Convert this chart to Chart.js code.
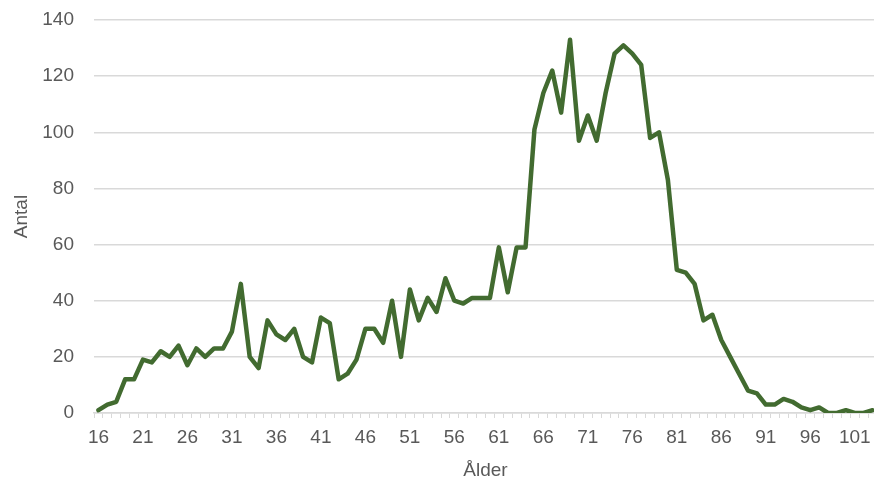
<!DOCTYPE html>
<html lang="sv">
  <head>
    <meta charset="UTF-8" />
    <title>Antal per ålder</title>
    <script src="https://cdn.jsdelivr.net/npm/chart.js@4.4.0/dist/chart.umd.min.js"></script>
    <style>
      html, body { margin: 0; padding: 0; background: #fff; overflow: hidden; }
      #wrap { width: 874px; height: 482px; overflow: hidden; }
    </style>
  </head>
  <body>
    <div id="wrap"><canvas id="myChart" width="877" height="482"></canvas></div>
    <script>
      // ages 16..103
      const ages = [];
      for (let a = 16; a <= 103; a++) ages.push(String(a));

      const antal = [
        1, 3, 4, 12, 12, 19, 18, 22, 20, 24,
        17, 23, 20, 23, 23, 29, 46, 20, 16, 33,
        28, 26, 30, 20, 18, 34, 32, 12, 14, 19,
        30, 30, 25, 40, 20, 44, 33, 41, 36, 48,
        40, 39, 41, 41, 41, 59, 43, 59, 59, 101,
        114, 122, 107, 133, 97, 106, 97, 114, 128, 131,
        128, 124, 98, 100, 83, 51, 50, 46, 33, 35,
        26, 20, 14, 8, 7, 3, 3, 5, 4, 2,
        1, 2, 0, 0, 1, 0, 0, 1
      ];

      const yTicks = [0, 20, 40, 60, 80, 100, 120, 140];

      const textColor = "#595959";
      const gridColor = "#d9d9d9";
      const font = { family: "'Liberation Sans', Arial, sans-serif", size: 19 };

      const ctx = document.getElementById("myChart").getContext("2d");
      new Chart(ctx, {
        type: "line",
        data: {
          labels: ages,
          datasets: [
            {
              label: "Antal",
              data: antal,
              borderColor: "#426b30",
              borderWidth: 4.5,
              borderJoinStyle: "round",
              borderCapStyle: "round",
              pointRadius: 0,
              fill: false,
              tension: 0,
            },
          ],
        },
        options: {
          responsive: false,
          animation: false,
          layout: { padding: { top: 20, right: 0, left: 0, bottom: 0 } },
          plugins: { legend: { display: false }, tooltip: { enabled: false } },
          scales: {
            x: {
              offset: true,
              afterFit: (s) => {
                s.height = 69;
                s.paddingLeft = 0;
                s.paddingRight = 0;
              },
              grid: {
                offset: true,
                drawOnChartArea: false,
                drawTicks: true,
                tickLength: 5,
                color: gridColor,
              },
              border: { color: gridColor, width: 1.5 },
              ticks: {
                autoSkip: false,
                maxRotation: 0,
                color: textColor,
                font: font,
                padding: 8,
                callback: function (value, index) {
                  return index % 5 === 0 ? this.getLabelForValue(value) : "";
                },
              },
              title: {
                display: true,
                text: "Ålder",
                color: textColor,
                font: font,
                padding: { top: 4, bottom: 0 },
              },
            },
            y: {
              min: 0,
              max: 140,
              afterFit: (s) => {
                s.width = 94;
                s.paddingTop = 0;
                s.paddingBottom = 0;
              },
              afterBuildTicks: (s) => { s.ticks = yTicks.map((v) => ({ value: v })); },
              grid: { color: gridColor, lineWidth: 1.5, drawTicks: false },
              border: { display: false },
              ticks: { color: textColor, font: font, padding: 20 },
              title: {
                display: true,
                text: "Antal",
                color: textColor,
                font: font,
                padding: { top: 10, bottom: 0 },
              },
            },
          },
        },
      });
    </script>
  </body>
</html>
